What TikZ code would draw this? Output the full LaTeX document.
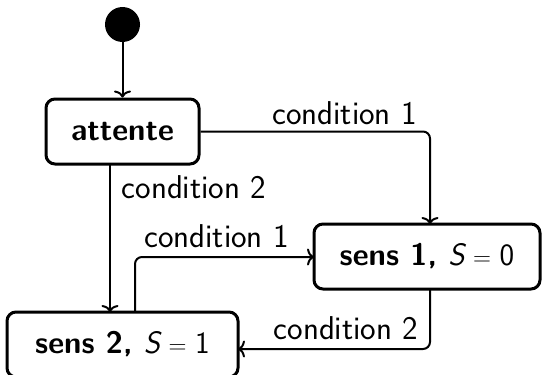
\documentclass[tikz,border=0pt]{standalone}
\usepackage{fontspec}
\usetikzlibrary{arrows.meta}
\begin{document}
\begin{tikzpicture}[x=1pt,y=-1pt,
  state/.style={draw,line width=3pt,rounded corners=9pt,minimum height=65pt,inner sep=0pt,font=\fontsize{31}{36}\selectfont\sffamily\bfseries},
  conn/.style={line width=2pt,rounded corners=7pt,-{To[length=7pt,width=17pt]}},
  lab/.style={font=\fontsize{33}{36}\selectfont\sffamily,inner sep=0pt}]
\useasboundingbox (0,0) rectangle (542,375);
\clip (0,0) rectangle (542,375);
\node[circle,fill=black,minimum size=35pt,inner sep=0pt] (init) at (122.5,24.5) {};
\node[state,minimum width=153pt] (attente) at (122.5,131.5) {attente};
\node[state,minimum width=226pt] (sens1) at (427,256.5) {sens 1, {\mdseries\itshape S}\;{\mdseries$=$}\;{\mdseries 0}};
\node[state,minimum width=231pt] (sens2) at (122.5,344.5) {sens 2, {\mdseries\itshape S}\;{\mdseries$=$}\;{\mdseries 1}};
\coordinate (a1) at (430,224);
\coordinate (a2) at (110,164);
\coordinate (b2) at (110,312);
\coordinate (c1) at (135,312);
\coordinate (c2) at (314,257);
\coordinate (d1) at (430,289);
\coordinate (d2) at (238,349);
\draw[conn] (init) -- (attente);
\draw[conn] (attente.east) -| (a1);
\draw[conn] (a2) -- (b2);
\draw[conn] (c1) |- (c2);
\draw[conn] (d1) |- (d2);
\node[lab] (l1) at (344.5,113) {condition 1};
\node[lab] (l2) at (194,187) {condition 2};
\node[lab] (l3) at (216.5,236) {condition 1};
\node[lab] (l4) at (346,328) {condition 2};
\end{tikzpicture}
\end{document}
